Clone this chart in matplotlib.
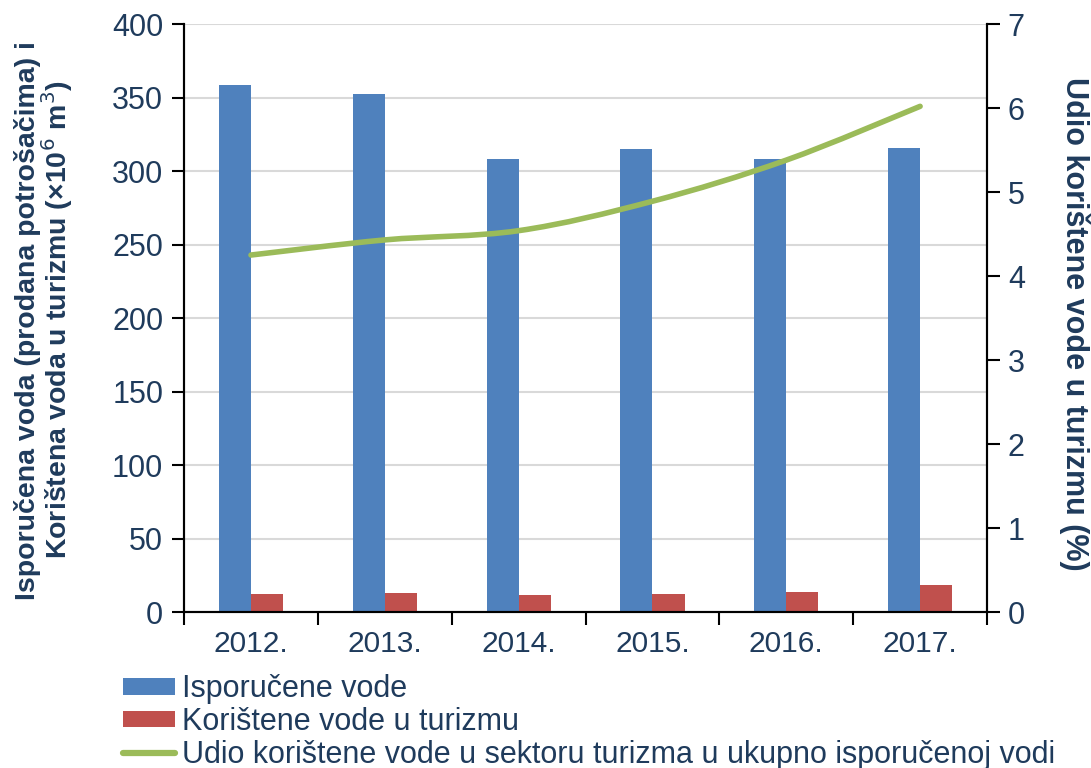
import matplotlib
matplotlib.use("Agg")
import matplotlib.pyplot as plt
import numpy as np
from matplotlib.path import Path
from matplotlib.patches import PathPatch
from matplotlib.lines import Line2D
from matplotlib.patches import Patch

years = ["2012.", "2013.", "2014.", "2015.", "2016.", "2017."]
isporucene = [358.5, 352.5, 308, 315, 308, 315.5]
turizam = [12.2, 12.7, 11.3, 12.2, 13.6, 18.4]
udio = [4.25, 4.43, 4.54, 4.89, 5.38, 6.02]

TXT = "#1F3B5C"
BLUE = "#4F81BD"
RED = "#C0504D"
GREEN = "#9BBB59"

plt.rcParams['font.family'] = ['Liberation Sans', 'DejaVu Sans']

fig = plt.figure(figsize=(10.91, 7.68), dpi=100)
ax = fig.add_axes([0.1687, 0.203, 0.9047 - 0.1687, 0.96875 - 0.203])
ax2 = ax.twinx()

x = np.arange(len(years))
w = 0.24
ax.bar(x - w / 2, isporucene, w, color=BLUE, zorder=2)
ax.bar(x + w / 2, turizam, w, color=RED, zorder=2)

ax.set_xlim(-0.5, len(years) - 0.5)
ax.set_ylim(0, 400)
ax.set_yticks(np.arange(0, 401, 50))
ax.grid(axis='y', color='#D9D9D9', linewidth=1.5, zorder=0)
ax.set_axisbelow(True)

ax2.set_ylim(0, 7)
ax2.set_yticks(np.arange(0, 8, 1))

# smoothed line (Bezier through the data points, Excel-style smoothing)
pts = np.column_stack([x, udio]).astype(float)
verts = [tuple(pts[0])]
codes = [Path.MOVETO]
t = 1.0 / 6.0
n = len(pts)
for i in range(n - 1):
    p0 = pts[i - 1] if i > 0 else pts[i]
    p1 = pts[i]
    p2 = pts[i + 1]
    p3 = pts[i + 2] if i + 2 < n else pts[i + 1]
    c1 = p1 + (p2 - p0) * t
    c2 = p2 - (p3 - p1) * t
    verts += [tuple(c1), tuple(c2), tuple(p2)]
    codes += [Path.CURVE4] * 3
path = Path(verts, codes)
ax2.add_patch(PathPatch(path, facecolor='none', edgecolor=GREEN, linewidth=4.0,
                        capstyle='round', joinstyle='round', zorder=3))

# x ticks at category boundaries, labels at centers
ax.set_xticks(np.arange(-0.5, len(years), 1.0))
ax.set_xticklabels([])
ax.set_xticks(x, minor=True)
ax.set_xticklabels(years, minor=True)
ax.tick_params(axis='x', which='major', direction='out', length=9, width=1.5, color='black')
ax.tick_params(axis='x', which='minor', length=0, labelsize=21.5, labelcolor=TXT, pad=13)
ax.tick_params(axis='y', direction='out', length=9, width=1.5, labelsize=22, labelcolor=TXT, pad=6)
ax2.tick_params(axis='y', direction='out', length=9, width=1.5, labelsize=22, labelcolor=TXT, pad=6)

for a in (ax, ax2):
    a.spines['top'].set_visible(False)
    for s in ('left', 'right', 'bottom'):
        a.spines[s].set_linewidth(1.5)
        a.spines[s].set_color('black')

fig.text(0.0320, 0.582, "Isporučena voda (prodana potrošačima) i",
         rotation=90, rotation_mode='anchor', ha='center', va='baseline',
         fontsize=20.5, fontweight='bold', color=TXT)
fig.text(0.0615, 0.584, "Korištena voda u turizmu (×10$^{6}$ m$^{3}$)",
         rotation=90, rotation_mode='anchor', ha='center', va='baseline',
         fontsize=20.5, fontweight='bold', color=TXT)
fig.text(0.985, 0.578, "Udio korištene vode u turizmu (%)", rotation=-90,
         ha='center', va='center', fontsize=22, fontweight='bold', color=TXT)

handles = [Patch(facecolor=BLUE), Patch(facecolor=RED),
           Line2D([0], [0], color=GREEN, linewidth=4.5, solid_capstyle='round')]
labels = ["Isporučene vode", "Korištene vode u turizmu",
          "Udio korištene vode u sektoru turizma u ukupno isporučenoj vodi"]
leg = fig.legend(handles, labels, loc='upper left', bbox_to_anchor=(0.1127, 0.122),
                 frameon=False, fontsize=22, labelcolor=TXT, handlelength=1.7,
                 handleheight=0.46, handletextpad=0.22, labelspacing=0.09,
                 borderaxespad=0, borderpad=0)

fig.savefig("out.png", dpi=100)
